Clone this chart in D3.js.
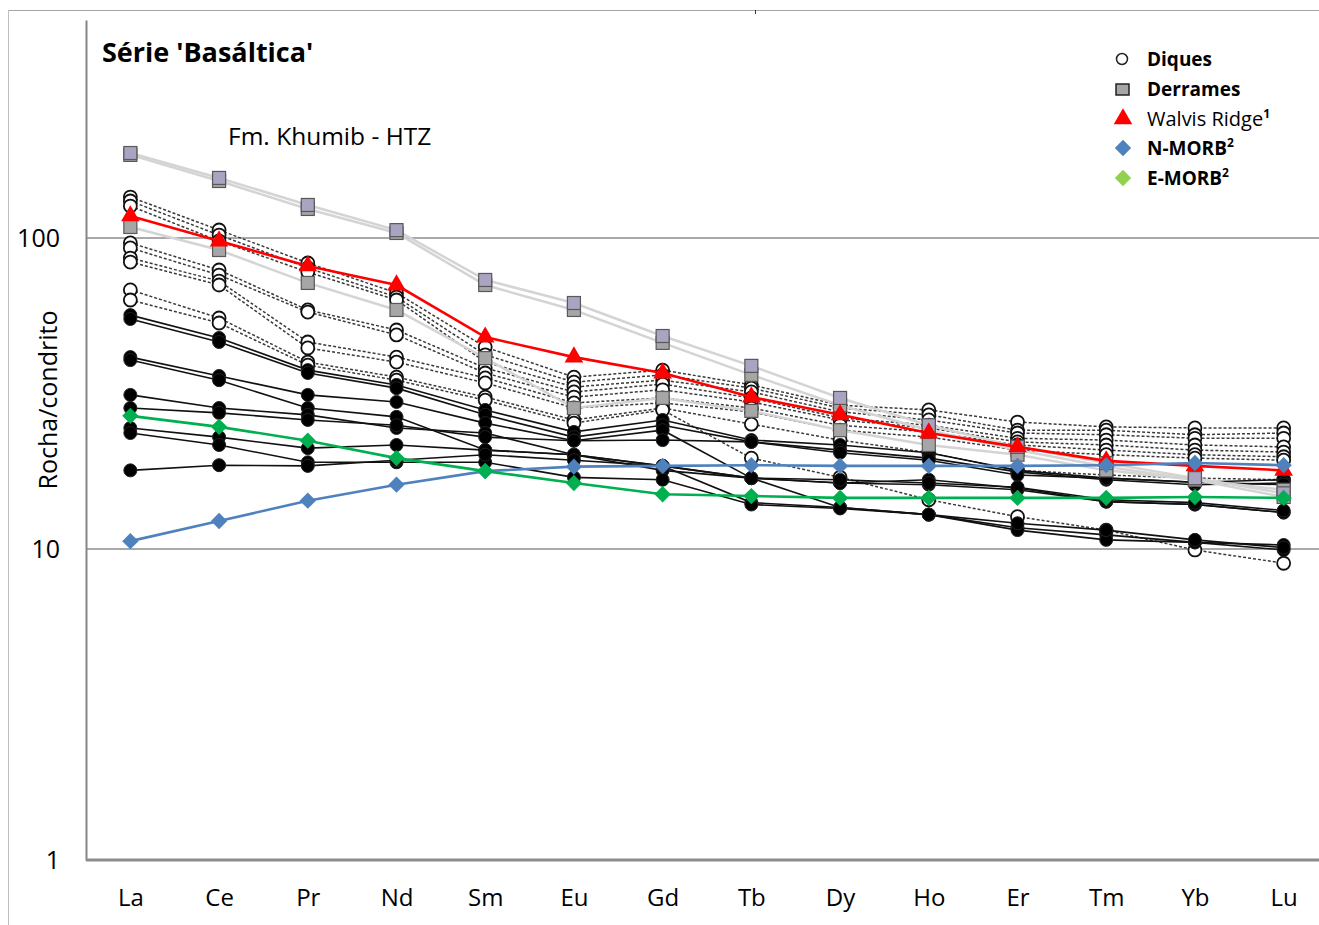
<!DOCTYPE html>
<html><head><meta charset="utf-8">
<script src="https://cdn.jsdelivr.net/npm/d3@7"></script>
<style>
html,body{margin:0;padding:0;background:#fff;}
svg{display:block;font-family:"Open Sans",Lato,sans-serif;}
</style></head>
<body>
<svg id="chart" width="1319" height="925"></svg>
<script>
// ---------- DATA ----------
const elements = ["La","Ce","Pr","Nd","Sm","Eu","Gd","Tb","Dy","Ho","Er","Tm","Yb","Lu"];
const yTicks = [1, 10, 100];

// Diques (open circles, dotted lines)
const diquesOpen = [
  [135.4,106.1,83.1,66.6,44.6,35.7,37.6,33.7,29.0,28.0,25.6,24.7,24.5,24.5],
  [131.5,102.2,80.1,64.6,42.1,34.4,36.3,32.9,28.4,27.0,24.1,24.1,23.3,23.6],
  [126.7,97.8,77.7,63.2,39.9,33.2,34.9,32.0,27.6,26.0,23.6,23.3,22.7,22.7],
  [96.4,78.9,58.7,50.6,38.2,32.0,33.9,30.6,26.4,25.0,22.7,22.4,21.6,21.3],
  [92.9,76.0,57.8,48.8,36.8,30.8,32.5,29.7,26.0,24.5,22.1,21.6,20.8,20.5],
  [86.2,72.7,46.3,41.4,35.5,29.5,30.6,28.4,25.0,23.8,21.6,20.8,20.1,19.8],
  [83.7,70.6,44.3,39.9,34.2,28.4,29.5,27.6,24.1,22.9,20.8,20.1,19.6,19.3],
  [68.1,55.3,39.9,35.7,30.8,26.0,28.4,25.2,22.4,20.4,17.9,17.3,16.9,16.7],
  [63.2,53.3,39.0,34.9,30.1,25.4,28.0,19.6,17.0,14.4,12.7,11.5,9.93,9.0]
];
// Diques (filled circles, solid lines)
const diquesFilled = [
  [56.5,47.7,37.6,33.7,28.0,23.8,26.0,22.4,21.6,20.4,17.9,16.9,16.4,16.7],
  [54.9,46.3,36.8,32.9,27.0,22.9,25.0,22.1,20.8,19.6,17.7,16.7,16.1,16.3],
  [41.4,36.0,31.3,29.7,25.4,22.3,24.1,16.9,13.6,12.9,11.7,11.1,10.5,10.3],
  [40.5,34.9,28.4,26.6,20.8,20.1,18.5,14.1,13.6,12.9,11.5,10.7,10.5,9.93],
  [31.3,28.4,27.0,24.5,23.6,20.1,17.9,16.9,16.3,16.7,15.7,14.2,13.9,13.1],
  [28.4,27.4,26.0,25.0,22.9,22.3,22.4,22.1,20.4,19.3,17.3,16.9,16.4,16.1],
  [24.5,22.9,21.1,21.6,20.8,20.1,18.5,16.9,16.3,16.1,15.5,14.2,13.9,13.1],
  [23.6,21.6,19.0,19.0,19.0,17.0,16.7,13.9,13.5,12.9,12.1,11.5,10.7,10.1],
  [17.9,18.6,18.5,19.3,20.1,19.3,18.5,16.9,16.7,16.3,15.8,14.4,14.1,13.3]
];
// Derrames (squares, light grey lines)
const derramesLavender = [187.6,156.0,127.7,106.0,73.3,61.8,48.4,38.8,30.6,25.0,21.3,18.9,16.9,15.1];
const derramesGrey = [
  [185.0,152.5,124.0,103.8,70.6,58.7,46.0,36.3,29.0,24.1,20.8,18.4,16.7,14.7],
  [108.5,91.5,71.7,58.7,41.1,28.4,30.6,27.8,24.1,21.6,20.1,17.9,16.7,15.5]
];
// Reference compositions
const walvisRidge = [117.7,97.8,81.3,70.6,48.0,41.4,36.8,30.8,27.0,23.6,21.3,19.2,18.5,17.9];
const nMORB = [10.6,12.3,14.3,16.1,17.8,18.4,18.5,18.6,18.5,18.5,18.5,18.6,18.9,18.6];
const eMORB = [26.8,24.7,22.3,19.6,17.8,16.3,15.0,14.8,14.6,14.6,14.6,14.6,14.7,14.6];

const legendLabels = ["Diques","Derrames","Walvis Ridge","N-MORB","E-MORB"];
const legendSup = ["","","1","2","2"];

// ---------- CHART ----------
const svg = d3.select("#chart");
const plot = {left:86, right:1328, top:20, bottom:860};

const x = d3.scalePoint().domain(elements).range([plot.left, plot.right]).padding(0.5);
const y = d3.scaleLog().domain([1, Math.pow(10, 840/311)]).range([plot.bottom, plot.top]);

// outer frame
svg.append("line").attr("x1",8).attr("x2",1319).attr("y1",10.5).attr("y2",10.5).attr("stroke","#a6a6a6").attr("stroke-width",1);
svg.append("line").attr("x1",8.5).attr("x2",8.5).attr("y1",10).attr("y2",925).attr("stroke","#bfbfbf").attr("stroke-width",1);
svg.append("line").attr("x1",755.5).attr("x2",755.5).attr("y1",10).attr("y2",14).attr("stroke","#333").attr("stroke-width",1);

// gridlines
svg.append("g").selectAll("line").data(yTicks.filter(d=>d>1)).join("line")
  .attr("x1",plot.left).attr("x2",1319)
  .attr("y1",d=>y(d)).attr("y2",d=>y(d))
  .attr("stroke","#8c8c8c").attr("stroke-width",1.5);

// axes (lines only)
const yAxis = svg.append("g").attr("transform",`translate(${plot.left},0)`)
  .call(d3.axisLeft(y).tickValues(yTicks).tickFormat(d3.format("d")).tickSize(0).tickPadding(26));
yAxis.select(".domain").attr("stroke","#868686").attr("stroke-width",2);
yAxis.selectAll("text").attr("font-size",25).attr("fill","#000").attr("font-family","'Open Sans', sans-serif");

const xAxis = svg.append("g").attr("transform",`translate(0,${plot.bottom})`)
  .call(d3.axisBottom(x).tickSize(0).tickPadding(29));
xAxis.select(".domain").attr("d",`M${plot.left},0H1319`).attr("stroke","#8c8c8c").attr("stroke-width",3);
xAxis.selectAll("text").attr("font-size",24).attr("fill","#000").attr("font-family","'Open Sans', sans-serif");

// y title
svg.append("text").attr("transform","translate(57,400) rotate(-90)")
  .attr("text-anchor","middle").attr("font-size",25).attr("fill","#000").text("Rocha/condrito");

const line = d3.line().x((d,i)=>x(elements[i])).y(d=>y(d));

// Diques open (dotted)
const gOpen = svg.append("g");
diquesOpen.forEach(s=>{
  gOpen.append("path").attr("d",line(s)).attr("fill","none").attr("stroke","#3a3a3a")
    .attr("stroke-width",1.5).attr("stroke-dasharray","3,2");
});
// Diques filled (solid)
const gFill = svg.append("g");
diquesFilled.forEach(s=>{
  gFill.append("path").attr("d",line(s)).attr("fill","none").attr("stroke","#111").attr("stroke-width",1.6);
});
// Derrames lines
[derramesLavender, ...derramesGrey].forEach(s=>{
  svg.append("path").attr("d",line(s)).attr("fill","none").attr("stroke","#d4d4d4").attr("stroke-width",2.5);
});

// markers for diques
diquesFilled.forEach(s=>{
  gFill.selectAll(null).data(s).join("circle")
    .attr("cx",(d,i)=>x(elements[i])).attr("cy",d=>y(d)).attr("r",6.5)
    .attr("fill","#000").attr("stroke","#222").attr("stroke-width",1);
});
diquesOpen.forEach(s=>{
  gOpen.selectAll(null).data(s).join("circle")
    .attr("cx",(d,i)=>x(elements[i])).attr("cy",d=>y(d)).attr("r",6.5)
    .attr("fill","#fff").attr("stroke","#111").attr("stroke-width",1.8);
});

// derrames markers
const sq = 13;
derramesGrey.forEach(s=>{
  svg.append("g").selectAll("rect").data(s).join("rect")
    .attr("x",(d,i)=>x(elements[i])-sq/2).attr("y",d=>y(d)-sq/2)
    .attr("width",sq).attr("height",sq).attr("fill","#a6a6a6").attr("stroke","#595959").attr("stroke-width",1.2);
});
svg.append("g").selectAll("rect").data(derramesLavender).join("rect")
  .attr("x",(d,i)=>x(elements[i])-sq/2).attr("y",d=>y(d)-sq/2)
  .attr("width",sq).attr("height",sq).attr("fill","#aaa3c2").attr("stroke","#595959").attr("stroke-width",1.2);

// reference series
const triangle = d3.symbol().type(d3.symbolTriangle).size(150);
const diamond = d3.symbol().type(d3.symbolDiamond2 || d3.symbolDiamond).size(170);
function drawRef(data, color, shape, mcolor){
  svg.append("path").attr("d",line(data)).attr("fill","none").attr("stroke",color).attr("stroke-width",2.6);
  svg.append("g").selectAll("path").data(data).join("path")
    .attr("d",shape)
    .attr("transform",(d,i)=>`translate(${x(elements[i])},${y(d)})`)
    .attr("fill",mcolor||color);
}
drawRef(walvisRidge,"#ff0000",triangle);
drawRef(nMORB,"#4f81bd",diamond);
drawRef(eMORB,"#00b050",diamond);

// titles
svg.append("text").attr("x",102).attr("y",62).attr("font-size",27).attr("font-weight","bold").attr("fill","#000").text("Série 'Basáltica'");
svg.append("text").attr("x",228).attr("y",145).attr("font-size",24.5).attr("fill","#000").text("Fm. Khumib - HTZ");

// legend
const leg = svg.append("g");
const legY = [59, 89, 119, 148, 178];
const legWeights = ["bold","bold","normal","bold","bold"];
const legSizes = [19,19,20,19,19];
leg.append("circle").attr("cx",1122).attr("cy",legY[0]).attr("r",5.5).attr("fill","#fff").attr("stroke","#222").attr("stroke-width",1.5);
leg.append("rect").attr("x",1116).attr("y",legY[1]-5).attr("width",13).attr("height",11).attr("fill","#a6a6a6").attr("stroke","#222").attr("stroke-width",1.5);
leg.append("path").attr("d",triangle).attr("transform",`translate(1123,${legY[2]})`).attr("fill","#ff0000");
leg.append("path").attr("d",diamond).attr("transform",`translate(1123,${legY[3]})`).attr("fill","#4f81bd");
leg.append("path").attr("d",diamond).attr("transform",`translate(1123,${legY[4]})`).attr("fill","#92d050");
legendLabels.forEach((t,i)=>{
  const tx = leg.append("text").attr("x",1147).attr("y",legY[i]+7).attr("font-size",legSizes[i])
    .attr("font-weight",legWeights[i]).attr("fill","#000").text(t);
  if(legendSup[i]) tx.append("tspan").attr("font-size",12).attr("dy",-8).attr("font-weight","bold").text(legendSup[i]);
});
</script>
</body></html>
